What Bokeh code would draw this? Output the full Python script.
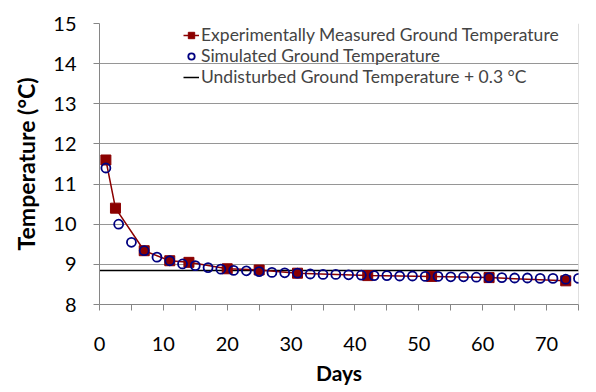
from bokeh.plotting import figure
from bokeh.models import Range1d, FixedTicker, Legend, LegendItem
from bokeh.embed import file_html
from bokeh.resources import INLINE

# Data
exp_days = [1, 2.5, 7, 11, 14, 20, 25, 31, 42, 52, 61, 73]
exp_temp = [11.6, 10.4, 9.34, 9.09, 9.05, 8.89, 8.86, 8.78, 8.72, 8.70, 8.67, 8.59]

sim_days = [1, 3, 5, 7, 9, 11, 13, 15, 17, 19, 21, 23, 25, 27, 29, 31, 33, 35, 37,
            39, 41, 43, 45, 47, 49, 51, 53, 55, 57, 59, 61, 63, 65, 67, 69, 71, 73, 75]
sim_temp = [11.40, 10.00, 9.55, 9.34, 9.18, 9.09, 9.01, 8.97, 8.92, 8.88, 8.85, 8.84,
            8.82, 8.80, 8.79, 8.78, 8.76, 8.75, 8.75, 8.74, 8.73, 8.72, 8.72, 8.71,
            8.71, 8.70, 8.70, 8.69, 8.69, 8.68, 8.67, 8.67, 8.66, 8.66, 8.65, 8.65,
            8.63, 8.65]

undisturbed_days = [0, 75]
undisturbed_temp = [8.85, 8.85]

x_major = [0, 10, 20, 30, 40, 50, 60, 70]
x_minor = [5, 15, 25, 35, 45, 55, 65, 75]
y_ticks = [8, 9, 10, 11, 12, 13, 14, 15]

FONT = "Lato"
AX = "#868686"

p = figure(width=590, height=390, output_backend="svg", toolbar_location=None,
           x_range=Range1d(0, 75), y_range=Range1d(8, 15),
           min_border_left=99, min_border_right=12, min_border_top=23, min_border_bottom=86)
p.outline_line_color = None

# Right frame edge
p.line(x=[75, 75], y=[8, 15], line_color="#bfbfbf", line_width=1)

r_undist = p.line(undisturbed_days, undisturbed_temp, line_color="black", line_width=1.5)
r_exp_line = p.line(exp_days, exp_temp, line_color="#8B0000", line_width=1.5)
r_exp_pts = p.scatter(exp_days, exp_temp, marker="square", size=10,
                      fill_color="#8B0000", line_color="#8B0000")
r_sim = p.scatter(sim_days, sim_temp, marker="circle", size=9,
                  fill_color=None, line_color="#000080", line_width=1.8)

legend = Legend(items=[
    LegendItem(label="Experimentally Measured Ground Temperature", renderers=[r_exp_line, r_exp_pts]),
    LegendItem(label="Simulated Ground Temperature", renderers=[r_sim]),
    LegendItem(label="Undisturbed Ground Temperature + 0.3 °C", renderers=[r_undist]),
], location=(84, 217))
legend.background_fill_alpha = 0
legend.border_line_color = None
legend.label_text_font = FONT
legend.label_text_font_size = "17.5px"
legend.label_height = 20
legend.glyph_height = 20
legend.glyph_width = 16
legend.spacing = 0
legend.padding = 0
legend.margin = 0
legend.label_standoff = 2
p.add_layout(legend)

# Axes
p.xaxis.ticker = FixedTicker(ticks=x_major, minor_ticks=x_minor)
p.yaxis.ticker = FixedTicker(ticks=y_ticks)
for ax in (p.xaxis[0], p.yaxis[0]):
    ax.axis_line_color = AX
    ax.major_tick_line_color = AX
    ax.major_tick_out = 6
    ax.major_tick_in = 0
    ax.major_label_text_font = FONT
    ax.major_label_text_font_size = "20px"
    ax.major_label_text_color = "black"
    ax.axis_label_text_font = FONT
    ax.axis_label_text_font_style = "bold"
    ax.axis_label_text_color = "black"
p.xaxis.axis_label_text_font_size = "21px"
p.yaxis.axis_label_text_font_size = "23px"
p.xaxis.minor_tick_line_color = AX
p.xaxis.minor_tick_out = 6
p.xaxis.minor_tick_in = 0
p.yaxis.minor_tick_line_color = None
p.xaxis.axis_label = "Days"
p.yaxis.axis_label = "Temperature (°C)"
p.xaxis.major_label_standoff = 26
p.xaxis.axis_label_standoff = 6
p.yaxis.major_label_standoff = 17
p.yaxis.axis_label_standoff = 10

p.xgrid.grid_line_color = None
p.ygrid.grid_line_color = "#969696"
p.ygrid.grid_line_width = 1

open("out.html", "w").write(file_html(p, INLINE))
